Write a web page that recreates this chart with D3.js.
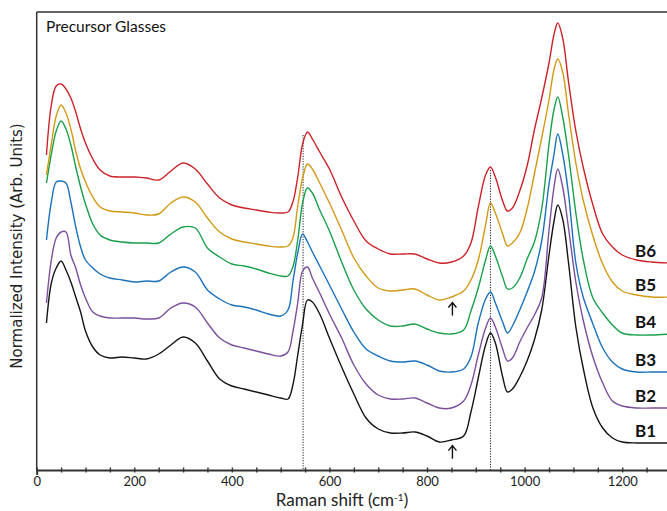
<!DOCTYPE html>
<html>
<head>
<meta charset="utf-8">
<script src="https://cdn.jsdelivr.net/npm/d3@7"></script>
<style>
  body { margin: 0; background: #fff; }
  svg { display: block; }
  .tick text { font-family: Lato, sans-serif; font-size: 13px; fill: #222; }
</style>
</head>
<body>
<svg id="chart" width="667" height="511"></svg>
<script>
// Raman shift grid (cm-1) shared by all spectra
const shifts = [20, 30, 40, 50, 60, 70, 80, 90, 100, 115, 130, 150, 175, 200, 225, 250, 275, 300, 325, 350,
  375, 400, 425, 450, 475, 500, 515, 525, 535, 545, 555, 565, 580, 600, 625, 650, 675, 700, 725, 750,
  775, 800, 825, 850, 875, 890, 905, 920, 930, 940, 955, 965, 975, 990, 1005, 1020, 1035, 1050, 1060, 1068,
  1078, 1090, 1105, 1120, 1140, 1160, 1180, 1200, 1230, 1260, 1300];

// stacked normalized intensities (arb. units, offset included)
const b1 = [147, 187, 202, 209, 200, 188, 173, 158, 139, 123, 115, 112, 113, 112, 111, 116, 125, 133, 127, 109,
  91, 84, 81, 78, 75, 72, 71, 85, 115, 146, 170, 168, 156, 132, 103, 76, 52, 41, 37, 37,
  38, 34, 28, 30, 34, 58, 92, 125, 137, 127, 93, 78, 81, 93, 109, 130, 160, 215, 248, 265,
  251, 207, 143, 102, 62, 42, 32, 28, 27, 27, 27];
const b2 = [167, 210, 232, 238, 238, 215, 202, 185, 172, 158, 154, 152, 152, 152, 151, 152, 162, 167, 163, 147,
  132, 125, 122, 119, 116, 114, 118, 138, 167, 199, 203, 192, 177, 156, 132, 105, 86, 75, 71, 71,
  72, 67, 62, 62, 69, 85, 115, 142, 152, 143, 121, 109, 112, 128, 142, 155, 172, 240, 282, 301,
  283, 242, 188, 150, 113, 87, 69, 64, 62, 62, 62];
const b3 = [230, 268, 288, 289, 287, 268, 243, 223, 210, 202, 196, 192, 190, 188, 189, 189, 198, 203, 198, 180,
  171, 165, 163, 160, 156, 154, 160, 188, 217, 236, 228, 218, 204, 185, 161, 138, 121, 114, 109, 108,
  109, 105, 99, 98, 101, 113, 147, 171, 178, 167, 148, 137, 144, 160, 178, 198, 229, 286, 315, 336,
  316, 276, 207, 173, 146, 122, 108, 101, 98, 98, 98];
const b4 = [287, 316, 339, 349, 341, 325, 303, 283, 266, 246, 235, 230, 228, 227, 227, 227, 236, 243, 242, 222,
  213, 206, 204, 201, 197, 194, 194, 203, 230, 267, 282, 277, 260, 239, 208, 180, 161, 150, 144, 144,
  146, 141, 137, 136, 140, 159, 182, 210, 224, 214, 193, 181, 182, 192, 211, 228, 261, 326, 360, 373,
  353, 315, 257, 211, 172, 157, 145, 137, 135, 135, 136];
const b5 = [295, 326, 354, 365, 357, 341, 319, 301, 288, 273, 263, 259, 258, 257, 255, 256, 267, 273, 268, 252,
  238, 231, 228, 226, 224, 223, 224, 232, 264, 292, 306, 301, 287, 267, 240, 212, 194, 182, 179, 180,
  181, 175, 170, 173, 179, 190, 210, 245, 267, 257, 236, 224, 227, 237, 261, 296, 332, 370, 400, 411,
  398, 356, 307, 270, 234, 206, 188, 179, 175, 173, 173];
const b6 = [315, 365, 384, 386, 381, 372, 358, 341, 327, 311, 300, 294, 293, 293, 292, 290, 299, 307, 301, 286,
  272, 265, 262, 260, 258, 257, 258, 268, 293, 326, 338, 331, 318, 301, 273, 249, 229, 221, 216, 216,
  216, 211, 207, 208, 214, 227, 263, 295, 303, 293, 269, 259, 262, 279, 304, 340, 372, 407, 435, 447,
  432, 388, 339, 303, 265, 236, 223, 215, 210, 208, 207];

const sampleNames = ['B1', 'B2', 'B3', 'B4', 'B5', 'B6'];
const sampleValues = [b1, b2, b3, b4, b5, b6];
const sampleColors = ['#141414', '#7b4f9d', '#1b72bb', '#18a04b', '#d29a14', '#cc2229'];

const xTicks = d3.range(0, 1301, 50);
const xLabels = [0, 200, 400, 600, 800, 1000, 1200];
const bandMarks = [546, 930];      // dotted reference lines
const shoulderShift = 852;         // arrows under B5 and B1
const arrowSamples = ['B5', 'B1'];

const svg = d3.select('#chart');
const margin = { left: 36.7, top: 12, bottom: 470, right: 671 };

const x = d3.scaleLinear().domain([0, 1300]).range([margin.left, margin.right]);
const y = d3.scaleLinear().domain([0, 458]).range([margin.bottom, margin.top]);

const series = sampleNames.map((name, i) => ({
    name: name,
    color: sampleColors[i],
    points: shifts.map((s, j) => [s, sampleValues[i][j]])
}));

// interpolate a spectrum at a given shift
function valueAt(values, s) {
    const k = d3.bisectLeft(shifts, s);
    if (k <= 0) return values[0];
    if (k >= shifts.length) return values[values.length - 1];
    const t = (s - shifts[k - 1]) / (shifts[k] - shifts[k - 1]);
    return values[k - 1] + t * (values[k] - values[k - 1]);
}

// frame: left and top borders
svg.append('line')
    .attr('x1', margin.left).attr('x2', margin.left)
    .attr('y1', margin.top).attr('y2', margin.bottom)
    .attr('stroke', '#333').attr('stroke-width', 1.5);
svg.append('line')
    .attr('x1', margin.left).attr('x2', margin.right)
    .attr('y1', margin.top).attr('y2', margin.top)
    .attr('stroke', '#333').attr('stroke-width', 1.5);

// dotted band lines, from the top spectrum down to the axis
bandMarks.forEach(s => {
    const top = d3.max(d3.range(s - 12, s + 13, 1), v => valueAt(b6, v));
    svg.append('line')
        .attr('x1', x(s)).attr('x2', x(s))
        .attr('y1', y(top) + 3).attr('y2', margin.bottom)
        .attr('stroke', '#222')
        .attr('stroke-width', 1)
        .attr('stroke-dasharray', '1.2,1.4');
});

// spectra
const line = d3.line()
    .x(d => x(d[0]))
    .y(d => y(d[1]))
    .curve(d3.curveCatmullRom.alpha(0.5));

svg.append('g')
    .selectAll('path')
    .data(series)
    .join('path')
    .attr('fill', 'none')
    .attr('stroke', d => d.color)
    .attr('stroke-width', 1.4)
    .attr('stroke-linejoin', 'round')
    .attr('d', d => line(d.points));

// sample labels at the right end
svg.append('g')
    .selectAll('text')
    .data(series)
    .join('text')
    .attr('x', 635)
    .attr('y', d => y(d.points[d.points.length - 1][1]) - 6)
    .attr('font-family', 'Lato, sans-serif')
    .attr('font-weight', 'bold')
    .attr('font-size', 17)
    .attr('fill', '#111')
    .text(d => d.name);

// arrows under the ~850 cm-1 shoulder
arrowSamples.forEach(name => {
    const vals = sampleValues[sampleNames.indexOf(name)];
    const ax = x(shoulderShift);
    const tip = y(valueAt(vals, shoulderShift)) + 6;
    const g = svg.append('g')
        .attr('fill', 'none')
        .attr('stroke', '#111')
        .attr('stroke-width', 1.4);
    g.append('line').attr('x1', ax).attr('x2', ax).attr('y1', tip).attr('y2', tip + 13);
    g.append('path').attr('d', `M${ax - 4},${tip + 5}L${ax},${tip}L${ax + 4},${tip + 5}`);
});

// x axis with ticks crossing the line
const xAxis = d3.axisBottom(x)
    .tickValues(xTicks)
    .tickSizeOuter(0)
    .tickSize(5)
    .tickFormat(d => xLabels.includes(d) ? d : '');

const axisG = svg.append('g')
    .attr('transform', `translate(0,${margin.bottom})`)
    .call(xAxis);
axisG.select('.domain').attr('stroke', '#333').attr('stroke-width', 2);
axisG.selectAll('.tick line')
    .attr('y1', -2.5).attr('y2', 2.5)
    .attr('stroke', '#333').attr('stroke-width', 1.4);
axisG.selectAll('.tick text').attr('y', 7);

// axis titles
const xTitle = svg.append('text')
    .attr('x', 342)
    .attr('y', 506)
    .attr('text-anchor', 'middle')
    .attr('font-family', 'Lato, sans-serif')
    .attr('font-size', 17)
    .attr('fill', '#222');
xTitle.append('tspan').text('Raman shift (cm');
xTitle.append('tspan').attr('dy', -5).attr('font-size', 10).text('-1');
xTitle.append('tspan').attr('dy', 5).text(')');

svg.append('text')
    .attr('transform', 'translate(22,246) rotate(-90)')
    .attr('text-anchor', 'middle')
    .attr('font-family', '"DejaVu Sans", sans-serif')
    .attr('font-size', 15)
    .attr('fill', '#222')
    .text('Normalized Intensity (Arb. Units)');

svg.append('text')
    .attr('x', 46)
    .attr('y', 32)
    .attr('font-family', 'Lato, sans-serif')
    .attr('font-size', 15.5)
    .attr('fill', '#111')
    .text('Precursor Glasses');
</script>
</body>
</html>
